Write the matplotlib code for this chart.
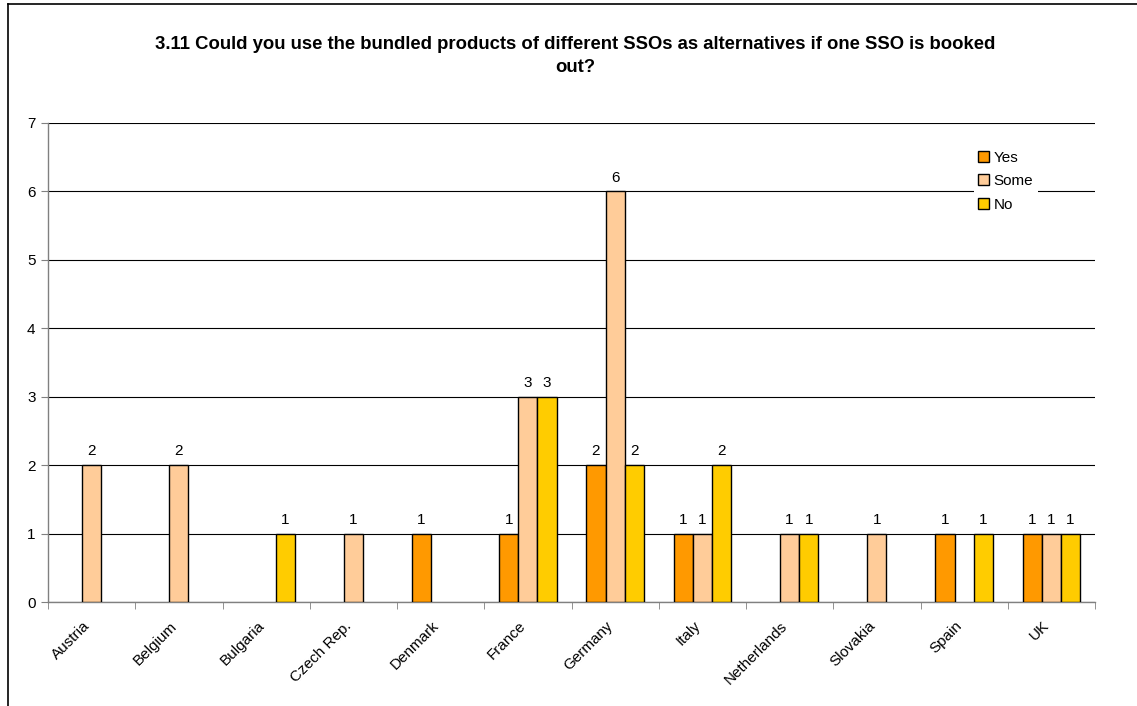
import matplotlib.pyplot as plt
import matplotlib.transforms as mtransforms
import numpy as np
from matplotlib.lines import Line2D
from matplotlib.patches import Patch

# data
countries = ['Austria', 'Belgium', 'Bulgaria', 'Czech Rep.', 'Denmark', 'France',
             'Germany', 'Italy', 'Netherlands', 'Slovakia', 'Spain', 'UK']
yes = [0, 0, 0, 0, 1, 1, 2, 1, 0, 0, 1, 1]
some = [2, 2, 0, 1, 0, 3, 6, 1, 1, 1, 0, 1]
no = [0, 0, 1, 0, 0, 3, 2, 2, 1, 0, 1, 1]

series = [('Yes', yes, '#FF9900'), ('Some', some, '#FFCC99'), ('No', no, '#FFCC00')]

plt.rcParams['font.family'] = ['Liberation Sans', 'DejaVu Sans']

fig = plt.figure(figsize=(11.37, 7.06), dpi=100)
ax = fig.add_axes([48 / 1137, 1 - 602 / 706, 1047 / 1137, 479 / 706])

x = np.arange(len(countries))
w = 0.22
handles = []
for i, (name, vals, col) in enumerate(series):
    pos = x + (i - 1) * w
    bars = ax.bar(pos, vals, w, color=col, edgecolor='black', linewidth=1.0, zorder=3)
    for b, p, v in zip(bars, pos, vals):
        if v > 0:
            ax.text(p, v + 0.1, str(v), ha='center', va='bottom', fontsize=11)
        else:
            b.set_visible(False)
    handles.append(Patch(facecolor=col, edgecolor='black', linewidth=1.0, label=name))

ax.set_xlim(-0.5, len(countries) - 0.5)
ax.set_ylim(0, 7)
ax.set_yticks(range(8))
ax.yaxis.grid(True, color='black', linewidth=0.8, zorder=0)
ax.set_axisbelow(True)

ax.set_xticks(x)
ax.set_xticklabels(countries, rotation=45, ha='right', rotation_mode='anchor', fontsize=11)
ax.tick_params(axis='x', length=0, pad=12)
shift = mtransforms.ScaledTranslation(-9 / 100, 0, fig.dpi_scale_trans)
for lbl in ax.get_xticklabels():
    lbl.set_transform(lbl.get_transform() + shift)
ax.set_xticks(np.arange(-0.5, len(countries)), minor=True)
ax.tick_params(axis='x', which='minor', length=5, color='#808080', direction='out')
ax.tick_params(axis='y', length=5, color='#808080', labelsize=11, pad=4)

for s in ['top', 'right']:
    ax.spines[s].set_visible(False)
for s in ['left', 'bottom']:
    ax.spines[s].set_color('#808080')
    ax.spines[s].set_linewidth(1.0)

leg = ax.legend(handles=handles, loc='upper left', bbox_to_anchor=(0.884, 0.952), frameon=True,
                fancybox=False, edgecolor='none', facecolor='white', framealpha=1,
                fontsize=11, handlelength=0.7, handleheight=0.7, handletextpad=0.3,
                labelspacing=0.62, borderpad=0.3, borderaxespad=0)

fig.text(0.506, 1 - 56 / 706,
         '3.11 Could you use the bundled products of different SSOs as alternatives if one SSO is booked\nout?',
         ha='center', va='center', fontsize=13.3, fontweight='bold', linespacing=1.45)

# outer frame (left and top edges visible)
fig.add_artist(Line2D([8 / 1137, 8 / 1137], [0, 1 - 4 / 706], color='black', linewidth=1.2))
fig.add_artist(Line2D([8 / 1137, 1], [1 - 4 / 706, 1 - 4 / 706], color='black', linewidth=1.2))

fig.savefig('out.png', dpi=100)
